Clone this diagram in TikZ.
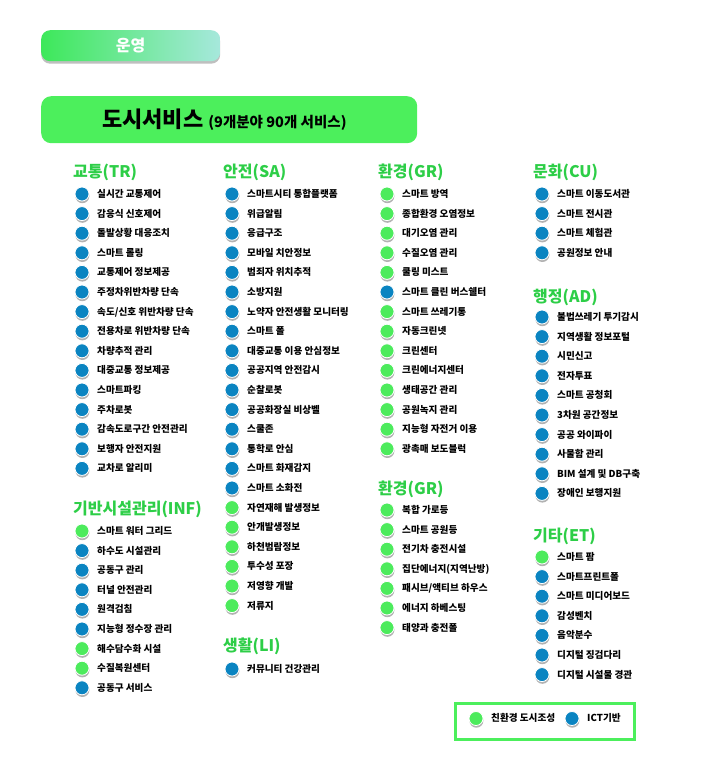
\documentclass[tikz,border=0pt]{standalone}
\usepackage{fontspec}
\setmainfont{Noto Sans CJK KR}
\usetikzlibrary{shadows}
\definecolor{ictblue}{HTML}{0A84C1}
\definecolor{ecogreen}{HTML}{4CEB5C}
\definecolor{boxgreen}{HTML}{4CEF5C}
\definecolor{headgreen}{HTML}{2DCE47}
\definecolor{gradL}{HTML}{3DE85A}
\definecolor{gradR}{HTML}{A6E8DC}
\tikzset{
  svcdot/.style={circle, minimum size=14pt, inner sep=0pt, draw=white, line width=0.8pt,
    drop shadow={shadow xshift=0.4pt, shadow yshift=-2.2pt, opacity=0.3, fill=black}},
  ict/.style={svcdot, fill=ictblue},
  eco/.style={svcdot, fill=ecogreen},
  lbl/.style={anchor=base west, inner sep=0pt, font=\fontsize{9.6}{11}\selectfont\bfseries},
  head/.style={anchor=base west, inner sep=0pt, font=\fontsize{16}{18}\selectfont\bfseries, text=headgreen},
}
\newcommand\svccol[5]{%
  \foreach \k/\t [count=\i from 0] in {#5} {%
    \node[\k] (#1\i) at (#2,{#4+19.6*\i}) {};
    \node[lbl] (#1t\i) at (#3,{#4+19.6*\i+3.4}) {\t};
  }}
\begin{document}
\begin{tikzpicture}[x=1pt,y=-1pt]
\useasboundingbox (0,0) rectangle (727,768);
% header boxes
\node[draw=none, minimum width=179pt, minimum height=31pt, rounded corners=9pt,
  left color=gradL, right color=gradR, anchor=north west, inner sep=0pt,
  drop shadow={shadow xshift=0pt, shadow yshift=-2.5pt, opacity=0.25, fill=black}]
  (ops) at (41,30) {};
\node[text=white, font=\fontsize{16}{18}\selectfont\bfseries] (opst) at (ops.center) {운영};
\node[fill=boxgreen, minimum width=376pt, minimum height=47pt, rounded corners=10pt,
  anchor=north west, inner sep=0pt] (city) at (41,96) {};
\node[anchor=base west, inner sep=0pt] (cityt) at (102,127)
  {\fontsize{22}{25}\selectfont\bfseries 도시서비스\ \fontsize{14.5}{17}\selectfont\bfseries (9개분야 90개 서비스)};
% column 1
\node[head] (hTR) at (73,177) {교통(TR)};
\svccol{tr}{82}{97}{194}{ict/실시간 교통제어, ict/감응식 신호제어, ict/돌발상황 대응조치, ict/스마트 롤링, ict/교통제어 정보제공, ict/주정차위반차량 단속, ict/{속도/신호 위반차량 단속}, ict/전용차로 위반차량 단속, ict/차량추적 관리, ict/대중교통 정보제공, ict/스마트파킹, ict/주차로봇, ict/감속도로구간 안전관리, ict/보행자 안전지원, ict/교차로 알리미}
\node[head] (hINF) at (73,514) {기반시설관리(INF)};
\svccol{inf}{82}{97}{531}{eco/스마트 워터 그리드, ict/하수도 시설관리, ict/공동구 관리, ict/터널 안전관리, ict/원격검침, ict/지능형 정수장 관리, eco/해수담수화 시설, eco/수질복원센터, ict/공동구 서비스}
% column 2
\node[head] (hSA) at (223,177) {안전(SA)};
\svccol{sa}{232}{247}{194}{ict/스마트시티 통합플랫폼, ict/위급알림, ict/응급구조, ict/모바일 치안정보, ict/범죄자 위치추적, ict/소방지원, ict/노약자 안전생활 모니터링, ict/스마트 폴, ict/대중교통 이용 안심정보, ict/공공지역 안전감시, ict/순찰로봇, ict/공공화장실 비상벨, ict/스쿨존, ict/통학로 안심, ict/스마트 화재감지, ict/스마트 소화전, eco/자연재해 발생정보, eco/안개발생정보, eco/하천범람정보, eco/투수성 포장, eco/저영향 개발, eco/저류지}
\node[head] (hLI) at (223,651) {생활(LI)};
\svccol{li}{232}{247}{669}{ict/커뮤니티 건강관리}
% column 3
\node[head] (hGR) at (378,177) {환경(GR)};
\svccol{gr}{387}{402}{194}{eco/스마트 방역, eco/종합환경 오염정보, eco/대기오염 관리, eco/수질오염 관리, eco/쿨링 미스트, ict/스마트 클린 버스쉘터, eco/스마트 쓰레기통, eco/자동크린넷, eco/크린센터, eco/크린에너지센터, eco/생태공간 관리, eco/공원녹지 관리, eco/지능형 자전거 이용, eco/광촉매 보도블럭}
\node[head] (hGRb) at (378,494) {환경(GR)};
\svccol{grb}{387}{402}{510}{eco/복합 가로등, eco/스마트 공원등, eco/전기차 충전시설, eco/집단에너지(지역난방), eco/{패시브/액티브 하우스}, eco/에너지 하베스팅, eco/태양과 충전폴}
% column 4
\node[head] (hCU) at (533,177) {문화(CU)};
\svccol{cu}{542}{557}{194}{ict/스마트 이동도서관, ict/스마트 전시관, ict/스마트 체험관, ict/공원정보 안내}
\node[head] (hAD) at (533,302) {행정(AD)};
\svccol{ad}{542}{557}{317}{ict/불법쓰레기 투기감시, ict/지역생활 정보포털, ict/시민신고, ict/전자투표, ict/스마트 공청회, ict/3차원 공간정보, ict/공공 와이파이, ict/사물함 관리, ict/BIM 설계 및 DB구축, ict/장애인 보행지원}
\node[head] (hET) at (533,541) {기타(ET)};
\svccol{et}{542}{557}{557}{eco/스마트 팜, ict/스마트프린트폴, ict/스마트 미디어보드, ict/감성벤치, ict/음악분수, ict/디지털 징검다리, ict/디지털 시설물 경관}
% legend
\node[draw=boxgreen, line width=3pt, minimum width=179pt, minimum height=36pt,
  anchor=north west, inner sep=0pt] (legend) at (453.5,701.5) {};
\node[eco] (legeco) at (476,718.5) {};
\node[lbl] (legecot) at (491,721.9) {친환경 도시조성};
\node[ict] (legict) at (572,718.5) {};
\node[lbl] (legictt) at (587,721.9) {ICT기반};
\end{tikzpicture}
\end{document}
